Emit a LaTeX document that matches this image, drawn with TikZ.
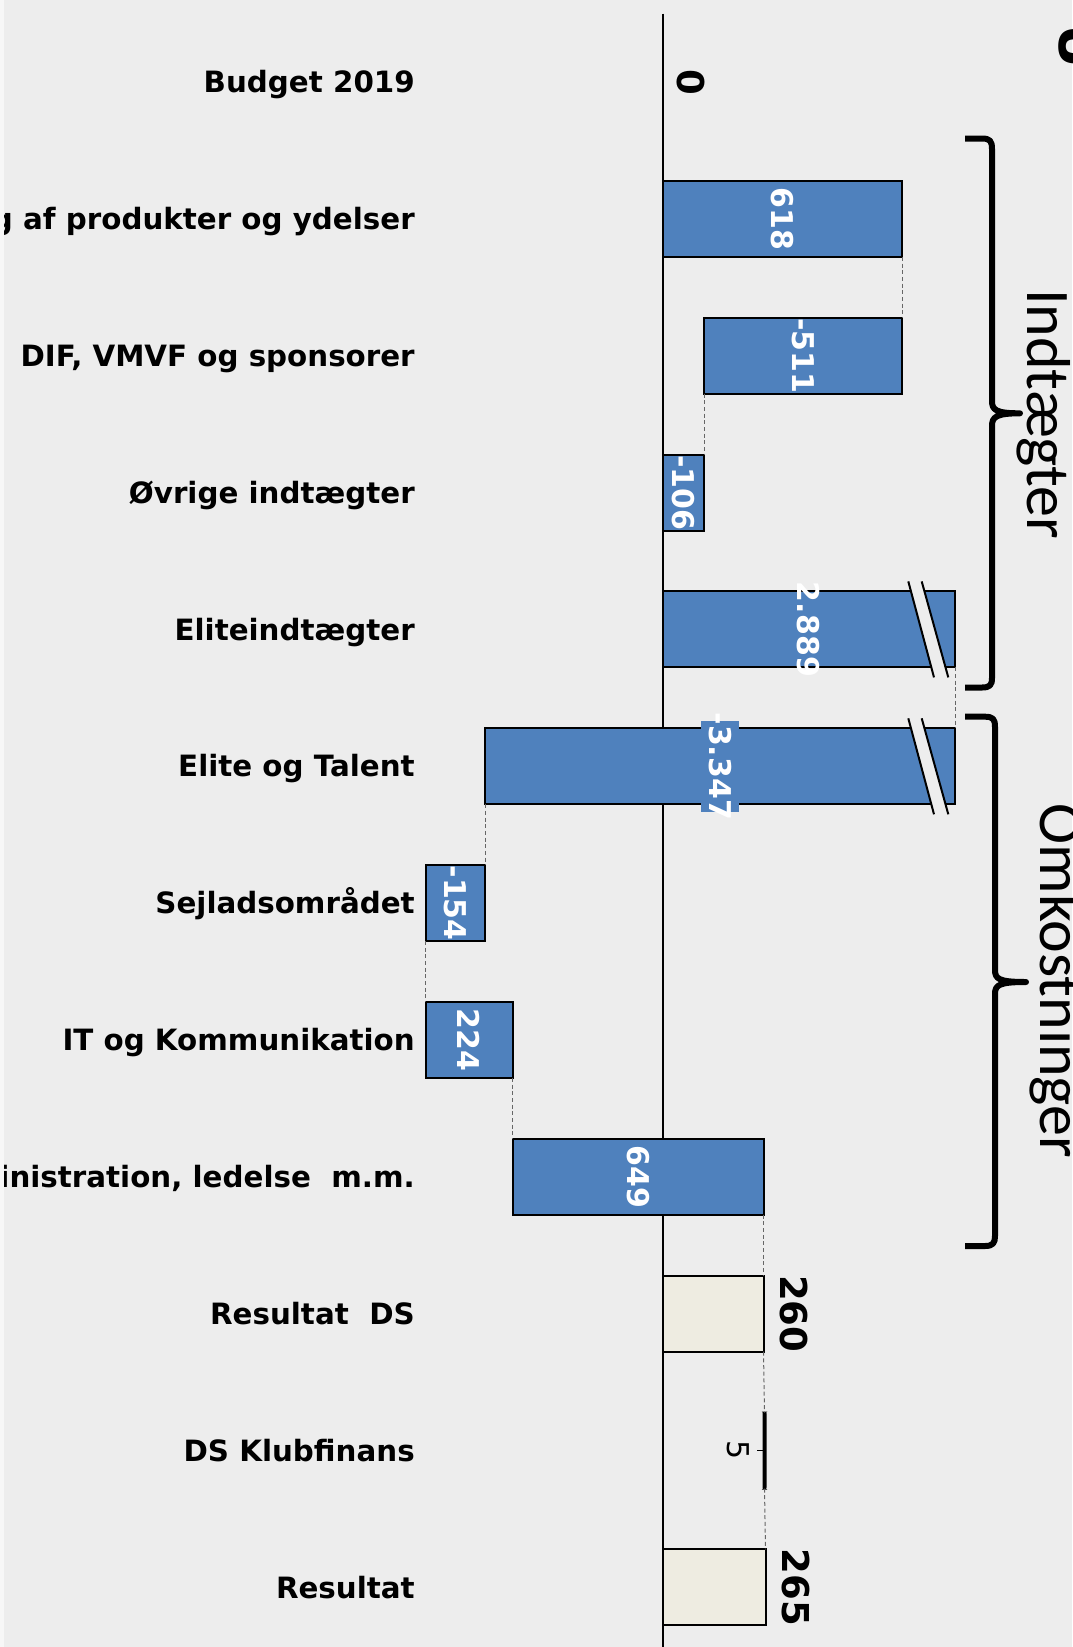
\documentclass[tikz,border=0pt]{standalone}
\usepackage{fontspec}
\usetikzlibrary{fit}
\newfontfamily\dsfont{DejaVu Sans}
\newfontfamily\cbfont{Carlito}
\definecolor{barblue}{HTML}{4F81BD}
\definecolor{sumfill}{HTML}{EEECE1}
\definecolor{bgcol}{HTML}{EDEDED}
\definecolor{thinbar}{HTML}{1F3A5F}
\tikzset{
  lbl/.style={anchor=base east, inner sep=0pt,
    font=\dsfont\bfseries\fontsize{22}{26}\selectfont},
  bar/.style={draw=black, line width=1.5pt, fill=barblue, inner sep=0pt, outer sep=0pt},
  sumbar/.style={bar, fill=sumfill},
  val/.style={rotate=-90, inner sep=0pt, text=white,
    font=\dsfont\bfseries\fontsize{22.5}{26}\selectfont},
  tot/.style={rotate=-90, inner sep=0pt,
    font=\dsfont\bfseries\fontsize{27.75}{32}\selectfont},
  link/.style={draw=black!60, line width=0.75pt, dash pattern=on 3pt off 2pt},
  cutline/.style={line width=1.5pt},
  brace/.style={line width=4.5pt, line join=round},
  grouptext/.style={rotate=-90, anchor=base, inner sep=0pt,
    font=\cbfont\fontsize{46.5}{54}\selectfont}
}
\begin{document}
\begin{tikzpicture}[x=0.75pt,y=-0.75pt]
  \useasboundingbox (0,0) rectangle (1072,1647);
  \fill[bgcol] (0,0) rectangle (1072,1647);
  \fill[white!55!bgcol] (0,0) rectangle (4,1647);
  \clip (4,0) rectangle (1072,1647);

  % axis
  \coordinate (axtop) at (662.5,13.6);
  \coordinate (axbot) at (662.5,1647);
  \draw[line width=1.5pt] (axtop) -- (axbot);

  % row labels
  \node[lbl] (l0) at (415,92.6) {Budget 2019};
  \node[lbl] (l1) at (415,229.5) {Salg af produkter og ydelser};
  \node[lbl] (l2) at (415,366.3) {DIF, VMVF og sponsorer};
  \node[lbl] (l3) at (415,503.2) {Øvrige indtægter};
  \node[lbl] (l4) at (415,640) {Eliteindtægter};
  \node[lbl] (l5) at (415,776.9) {Elite og Talent};
  \node[lbl] (l6) at (415,913.7) {Sejladsområdet};
  \node[lbl] (l7) at (415,1050.6) {IT og Kommunikation};
  \node[lbl] (l8) at (415,1187.4) {Administration, ledelse~~m.m.};
  \node[lbl] (l9) at (415,1324.3) {Resultat~~DS};
  \node[lbl] (l10) at (415,1461.1) {DS Klubfinans};
  \node[lbl] (l11) at (415,1598) {Resultat};

  % bars
  \node[bar, fit={(662.5,180.9) (902,256.9)}] (b1) {};
  \node[bar, fit={(704,317.7) (902,393.7)}] (b2) {};
  \node[bar, fit={(662.5,454.6) (704,530.6)}] (b3) {};
  \node[bar, fit={(662.5,591.4) (955,667.4)}] (b4) {};
  \node[bar, fit={(485,728.3) (955,804.3)}] (b5) {};
  \node[bar, fit={(425.5,865.1) (485,941.1)}] (b6) {};
  \node[bar, fit={(425.5,1002) (512.5,1078)}] (b7) {};
  \node[bar, fit={(512.5,1138.8) (763.5,1214.8)}] (b8) {};
  \node[sumbar, fit={(662.5,1275.7) (763.5,1351.7)}] (b9) {};
  \node[bar, fill=thinbar, rounded corners=1pt, fit={(763.5,1412.5) (765.5,1488.5)}] (b10) {};
  \node[sumbar, fit={(662.5,1549.4) (765.5,1625.4)}] (b11) {};

  % axis breaks
  \fill[bgcol] (908.3,581.4) -- (921.7,581.4) -- (948.3,677.4) -- (934,677.4) -- cycle;
  \draw[cutline] (908.3,581.4) -- (934,677.4) (921.7,581.4) -- (948.3,677.4);
  \fill[bgcol] (908.3,718.3) -- (921.7,718.3) -- (948.3,814.3) -- (934,814.3) -- cycle;
  \draw[cutline] (908.3,718.3) -- (934,814.3) (921.7,718.3) -- (948.3,814.3);

  % links between bars
  \draw[link] (b1.south east) -- (b2.north east);
  \draw[link] (b2.south west) -- (b3.north east);
  \draw[link] (b4.south east) -- (b5.north east);
  \draw[link] (b5.south west) -- (b6.north east);
  \draw[link] (b6.south west) -- (b7.north west);
  \draw[link] (b7.south east) -- (b8.north west);
  \draw[link] (b8.south east) -- (b9.north east);
  \draw[link] (b9.south east) -- (b10.north);
  \draw[link] (b10.south) -- (b11.north east);

  % values
  \node[tot] (v0) at (691,82) {0};
  \node[val] (v1) at (b1.center) {618};
  \node[val] (v2) at (b2.center) {-511};
  \node[val] (v3) at (b3.center) {-106};
  \node[val] (v4) at (b4.center) {2.889};
  \node[val, fill=barblue, inner xsep=-6pt, inner ysep=6pt] (v5) at (b5.center) {-3.347};
  \node[val] (v6) at (b6.center) {-154};
  \node[val] (v7) at (b7.center) {224};
  \node[val] (v8) at (b8.center) {649};
  \node[tot] (v9) at (794,1313.7) {260};
  \node[rotate=-90, inner sep=0pt, font=\dsfont\fontsize{22.5}{26}\selectfont] (v10) at (738,1450.5) {5};
  \draw[line width=0.5pt, shorten >=6pt] (b10.west) -- (v10.north);
  \node[tot] (v11) at (795.5,1587.4) {265};

  % group braces
  \draw[brace] (965,138.5) -- (982,138.5) .. controls (990,138.5) and (992,141) .. (992,149)
    -- (992,401) .. controls (992,410) and (996,413.3) .. (1020,413.3)
    .. controls (996,413.3) and (992,417) .. (992,426)
    -- (992,678) .. controls (992,685) and (990,687.5) .. (982,687.5) -- (965,687.5);
  \draw[brace] (965,716.7) -- (985,716.7) .. controls (993,716.7) and (995,719) .. (995,727)
    -- (995,970) .. controls (995,979) and (999,982) .. (1026,982)
    .. controls (999,982) and (995,985) .. (995,994)
    -- (995,1236) .. controls (995,1243) and (993,1246) .. (985,1246) -- (965,1246);
  \node[grouptext] (g1) at (1027,414) {Indtægter};
  \node[grouptext] (g2) at (1040,981) {Omkostninger};

  % title, cut off at the edge
  \node[rotate=-90, anchor=base, inner sep=0pt,
    font=\dsfont\bfseries\fontsize{41}{48}\selectfont] (ttl) at (1059,47) {U};
\end{tikzpicture}
\end{document}
